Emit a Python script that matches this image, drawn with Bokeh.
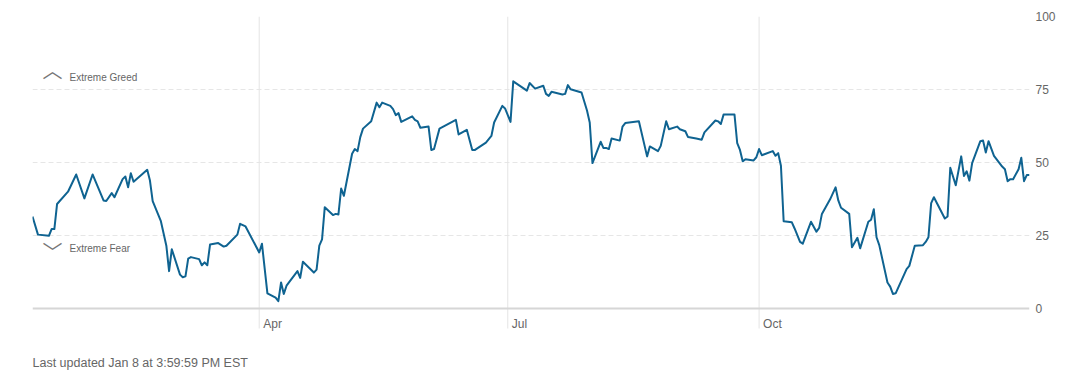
import pandas as pd
from bokeh.plotting import figure
from bokeh.models import Label, FixedTicker, Range1d, Span
from bokeh.embed import file_html
from bokeh.resources import INLINE

dates = [
    "2025-01-08", "2025-01-10", "2025-01-14", "2025-01-15", "2025-01-16", "2025-01-17", "2025-01-21",
    "2025-01-24", "2025-01-27", "2025-01-30", "2025-02-03", "2025-02-04", "2025-02-06", "2025-02-07",
    "2025-02-10", "2025-02-11", "2025-02-12", "2025-02-13", "2025-02-14", "2025-02-19", "2025-02-20",
    "2025-02-21", "2025-02-24", "2025-02-26", "2025-02-27", "2025-02-28", "2025-03-03", "2025-03-04",
    "2025-03-05", "2025-03-06", "2025-03-07", "2025-03-10", "2025-03-11", "2025-03-12", "2025-03-13",
    "2025-03-14", "2025-03-17", "2025-03-19", "2025-03-20", "2025-03-24", "2025-03-25", "2025-03-27",
    "2025-04-01", "2025-04-02", "2025-04-04", "2025-04-07", "2025-04-08", "2025-04-09", "2025-04-10",
    "2025-04-11", "2025-04-15", "2025-04-16", "2025-04-17", "2025-04-21", "2025-04-22", "2025-04-23",
    "2025-04-24", "2025-04-25", "2025-04-28", "2025-04-29", "2025-04-30", "2025-05-01", "2025-05-02",
    "2025-05-05", "2025-05-06", "2025-05-07", "2025-05-08", "2025-05-09", "2025-05-12", "2025-05-14",
    "2025-05-15", "2025-05-16", "2025-05-19", "2025-05-20", "2025-05-21", "2025-05-22", "2025-05-23",
    "2025-05-27", "2025-05-28", "2025-05-29", "2025-05-30", "2025-06-02", "2025-06-03", "2025-06-04",
    "2025-06-06", "2025-06-12", "2025-06-13", "2025-06-16", "2025-06-18", "2025-06-19", "2025-06-23",
    "2025-06-25", "2025-06-26", "2025-06-29", "2025-06-30", "2025-07-02", "2025-07-03", "2025-07-08",
    "2025-07-09", "2025-07-11", "2025-07-14", "2025-07-15", "2025-07-16", "2025-07-17", "2025-07-21",
    "2025-07-22", "2025-07-23", "2025-07-24", "2025-07-28", "2025-07-30", "2025-07-31", "2025-08-01",
    "2025-08-04", "2025-08-05", "2025-08-06", "2025-08-07", "2025-08-08", "2025-08-11", "2025-08-12",
    "2025-08-13", "2025-08-18", "2025-08-21", "2025-08-22", "2025-08-25", "2025-08-26", "2025-08-28",
    "2025-08-29", "2025-09-01", "2025-09-02", "2025-09-04", "2025-09-05", "2025-09-08", "2025-09-10",
    "2025-09-11", "2025-09-15", "2025-09-16", "2025-09-17", "2025-09-18", "2025-09-22", "2025-09-23",
    "2025-09-24", "2025-09-25", "2025-09-26", "2025-09-29", "2025-09-30", "2025-10-01", "2025-10-02",
    "2025-10-06", "2025-10-07", "2025-10-08", "2025-10-09", "2025-10-10", "2025-10-13", "2025-10-14",
    "2025-10-16", "2025-10-17", "2025-10-20", "2025-10-22", "2025-10-23", "2025-10-24", "2025-10-27",
    "2025-10-29", "2025-10-30", "2025-10-31", "2025-11-03", "2025-11-04", "2025-11-06", "2025-11-07",
    "2025-11-10", "2025-11-11", "2025-11-12", "2025-11-13", "2025-11-14", "2025-11-17", "2025-11-18",
    "2025-11-19", "2025-11-20", "2025-11-24", "2025-11-25", "2025-11-27", "2025-11-30", "2025-12-01",
    "2025-12-02", "2025-12-03", "2025-12-04", "2025-12-08", "2025-12-09", "2025-12-10", "2025-12-12",
    "2025-12-14", "2025-12-15", "2025-12-16", "2025-12-17", "2025-12-18", "2025-12-21", "2025-12-22",
    "2025-12-23", "2025-12-24", "2025-12-26", "2025-12-29", "2025-12-30", "2025-12-31", "2026-01-01",
    "2026-01-02", "2026-01-04", "2026-01-05", "2026-01-06", "2026-01-07", "2026-01-08",
]

values = [
    31.5, 25.3, 24.9, 27.2, 27.2, 35.8, 40.0,
    45.9, 37.7, 45.9, 37.0, 36.8, 39.5, 38.1,
    44.3, 45.2, 41.5, 46.3, 43.4, 47.5, 43.8,
    36.8, 29.9, 21.5, 12.8, 20.3, 11.6, 10.7,
    11.0, 17.1, 17.6, 16.9, 14.8, 15.8, 14.8,
    21.9, 22.4, 21.2, 21.5, 25.3, 29.0, 28.1,
    19.2, 22.2, 5.2, 3.7, 2.5, 8.9, 5.0,
    7.8, 12.8, 10.5, 16.0, 12.3, 13.3, 21.5,
    23.7, 34.7, 32.0, 32.4, 32.2, 41.1, 38.6,
    53.0, 54.6, 53.9, 58.7, 61.6, 64.1, 70.5,
    68.9, 70.5, 69.4, 68.3, 66.2, 66.9, 63.9,
    65.8, 64.6, 64.1, 61.9, 62.3, 54.3, 54.6,
    61.6, 64.6, 59.6, 61.2, 54.3, 54.3, 56.8,
    59.1, 63.7, 69.4, 68.5, 63.9, 77.8, 74.6,
    77.2, 75.3, 76.3, 73.5, 72.8, 74.2, 73.3,
    73.5, 76.5, 75.1, 74.0, 67.8, 63.7, 49.8,
    57.1, 55.0, 55.0, 54.6, 58.2, 57.5, 62.3,
    63.5, 64.1, 52.1, 55.5, 53.9, 55.7, 64.1,
    61.4, 62.3, 61.4, 60.7, 58.7, 58.2, 57.8,
    60.3, 64.4, 64.1, 63.2, 66.4, 66.4, 56.6,
    54.3, 50.4, 51.1, 50.7, 51.8, 54.6, 52.5,
    53.9, 52.3, 53.2, 48.9, 29.9, 29.5, 27.4,
    22.8, 22.2, 29.7, 26.3, 27.6, 32.4, 37.4,
    41.5, 37.0, 34.5, 32.4, 21.0, 24.2, 20.6,
    29.7, 30.4, 34.0, 24.4, 21.7, 8.9, 7.5,
    5.0, 5.2, 13.5, 14.6, 21.5, 21.7, 22.8,
    24.4, 36.1, 38.1, 30.8, 31.5, 48.2, 42.2,
    52.1, 45.4, 47.0, 43.8, 49.8, 57.3, 57.5,
    53.4, 57.3, 52.3, 48.6, 47.7, 43.6, 44.3,
    44.3, 47.7, 51.6, 43.6, 45.7, 45.7,
]

month_ticks = ["2025-04-01", "2025-07-01", "2025-10-01"]
month_labels = ["Apr", "Jul", "Oct"]
y_ticks = [0, 25, 50, 75, 100]
zone_labels = ["Extreme Greed", "Extreme Fear"]
zone_levels = [79.1, 20.5]
zone_icons = ["\ufe3f", "\ufe40"]
zone_icon_levels = [81.7, 19.6]
footer = "Last updated Jan 8 at 3:59:59 PM EST"

FONT = "Liberation Sans"
TXT = "#666666"
LINE = "#0f6391"
GRID = "#e4e4e4"

PX = 292 / 100.0          # pixels per index point
BELOW = 70                # pixels of frame kept below the zero line


def ms(s):
    return pd.Timestamp(s).value / 1e6


x = pd.to_datetime(dates)
x0, x1 = ms(dates[0]), ms(dates[-1])
mt = [ms(t) for t in month_ticks]

p = figure(width=1084, height=386, x_axis_type="datetime",
           x_range=Range1d(x0, x1), y_range=Range1d(-BELOW / PX, 100),
           y_axis_location="right", output_backend="svg", toolbar_location=None,
           min_border_left=32, min_border_right=55, min_border_top=16, min_border_bottom=8)
p.outline_line_color = None
p.background_fill_color = "white"
p.border_fill_color = "white"
p.xaxis.visible = False

# y axis (right)
yax = p.yaxis[0]
yax.ticker = FixedTicker(ticks=y_ticks)
yax.axis_line_color = None
yax.major_tick_line_color = None
yax.major_tick_out = 0
yax.major_tick_in = 0
yax.minor_tick_line_color = None
yax.minor_tick_out = 0
yax.major_label_standoff = 6
yax.major_label_text_font = FONT
yax.major_label_text_font_size = "12px"
yax.major_label_text_color = TXT

p.xgrid.visible = False
p.ygrid.ticker = FixedTicker(ticks=[t for t in y_ticks if t > 0])
p.ygrid.grid_line_color = "#e6e6e6"
p.ygrid.grid_line_dash = "5 3"

# month separators, running a little below the baseline
p.segment(x0=mt, y0=[-20 / PX] * len(mt), x1=mt, y1=[100] * len(mt),
          line_color=GRID, line_width=1)

# baseline
p.add_layout(Span(location=0, dimension="width", line_color="#d6d6d6", line_width=2))

p.line(x=x, y=values, line_color=LINE, line_width=2, line_join="round")

for t, lab in zip(mt, month_labels):
    p.add_layout(Label(x=t, y=-15 / PX, x_offset=4, text=lab,
                       text_font=FONT, text_font_size="12px", text_color=TXT,
                       text_align="left", text_baseline="middle"))

for lab, lev, icon, ilev in zip(zone_labels, zone_levels, zone_icons, zone_icon_levels):
    p.add_layout(Label(x=x0, y=lev, x_offset=37, text=lab,
                       text_font=FONT, text_font_size="10px", text_color=TXT,
                       text_align="left", text_baseline="middle"))
    p.add_layout(Label(x=x0, y=ilev, x_offset=20, text=icon,
                       text_font="Noto Sans CJK JP", text_font_size="20px", text_color="#777777",
                       text_align="center", text_baseline="middle"))

p.add_layout(Label(x=x0, y=-54 / PX, text=footer,
                   text_font=FONT, text_font_size="12.5px", text_color=TXT,
                   text_align="left", text_baseline="middle"))

open("out.html", "w").write(file_html(p, INLINE))
